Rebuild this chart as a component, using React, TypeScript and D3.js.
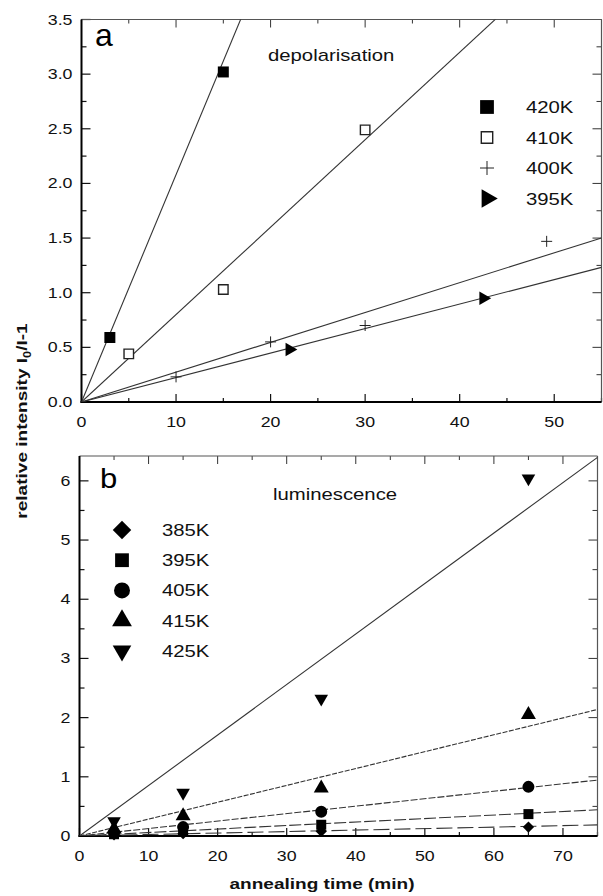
import React, { useEffect, useRef } from "react";
import * as d3 from "d3";

const W = 603;
const H = 896;
const FONT = "'Liberation Sans', Arial, Helvetica, sans-serif";
const STRETCH = 1.27; // the scanned lettering is wide

// ---- panel a : depolarisation ----
const aNames = ["420K", "410K", "400K", "395K"];
const aTimes420 = [3, 15];
const aVals420 = [0.59, 3.02];
const aTimes410 = [5, 15, 30];
const aVals410 = [0.44, 1.03, 2.49];
const aTimes400 = [10, 20, 30, 49.2];
const aVals400 = [0.23, 0.55, 0.7, 1.47];
const aTimes395 = [22, 42.5];
const aVals395 = [0.48, 0.95];
const aSlopes = [0.208, 0.08, 0.0273, 0.0224];
const aXTicks = [0, 10, 20, 30, 40, 50];
const aYTicks = [0, 0.5, 1, 1.5, 2, 2.5, 3, 3.5];

// ---- panel b : luminescence ----
const bNames = ["385K", "395K", "405K", "415K", "425K"];
const bTimes = [5, 15, 35, 65];
const b385 = [0.02, 0.04, 0.08, 0.15];
const b395 = [0.03, 0.08, 0.19, 0.37];
const b405 = [0.05, 0.15, 0.41, 0.83];
const b415 = [0.12, 0.34, 0.81, 2.05];
const b425 = [0.25, 0.73, 2.32, 6.04];
const bSlopes = [0.0025, 0.0059, 0.0126, 0.0285, 0.0853];
const bDash = ["16,5", "12,3", "7,2", "5,1.5", null];
const bXTicks = [0, 10, 20, 30, 40, 50, 60, 70];
const bYTicks = [0, 1, 2, 3, 4, 5, 6];

function markPath(kind: string, size: number) {
  if (kind === "plus") return `M${-size},0H${size}M0,${-size}V${size}`;
  const t: any = {
    square: d3.symbolSquare,
    open: d3.symbolSquare,
    diamond: d3.symbolSquare,
    circle: d3.symbolCircle,
    triUp: d3.symbolTriangle,
    triDown: d3.symbolTriangle,
    triRight: d3.symbolTriangle,
  }[kind];
  return d3.symbol(t, size)();
}
const rot: any = { diamond: 45, triDown: 180, triRight: 90 };

function drawMark(g: any, kind: string, size: number, cx: number, cy: number) {
  const p = g
    .append("path")
    .attr("d", markPath(kind, size))
    .attr("transform", `translate(${cx},${cy}) rotate(${rot[kind] || 0})`);
  if (kind === "open") p.attr("fill", "#fff").attr("stroke", "#222").attr("stroke-width", 1.4);
  else if (kind === "plus") p.attr("fill", "none").attr("stroke", "#222").attr("stroke-width", 1);
  else p.attr("fill", "#000");
}

function label(g: any, x: number, y: number, txt: string, anchor: string, size: number, weight = "normal") {
  return g
    .append("text")
    .attr("transform", `translate(${x},${y}) scale(${STRETCH},1)`)
    .attr("text-anchor", anchor)
    .attr("font-family", FONT)
    .attr("font-size", size)
    .attr("font-weight", weight)
    .attr("fill", "#111")
    .text(txt);
}

function drawFrame(svg: any, x: any, y: any, xMajor: number[], xStep: number, yMajor: number[], yStep: number, fmt: any, id: string) {
  const [l, r] = x.range();
  const [b, t] = y.range();
  const g = svg.append("g");
  const [xd0, xd1] = x.domain();
  const [yd0, yd1] = y.domain();
  const xMinor = d3.range(xd0, xd1 + 1e-9, xStep);
  const yMinor = d3.range(yd0, yd1 + 1e-9, yStep);
  const isMajor = (v: number, arr: number[]) => arr.some((m) => Math.abs(m - v) < 1e-6);

  xMinor.forEach((v) => {
    const len = isMajor(v, xMajor) ? 8 : 4;
    const px = x(v);
    g.append("line").attr("x1", px).attr("x2", px).attr("y1", b).attr("y2", b - len).attr("stroke", "#111").attr("stroke-width", 1.2);
    g.append("line").attr("x1", px).attr("x2", px).attr("y1", t).attr("y2", t + len).attr("stroke", "#333").attr("stroke-width", 1);
  });
  yMinor.forEach((v) => {
    const len = isMajor(v, yMajor) ? 9 : 5;
    const py = y(v);
    g.append("line").attr("x1", l).attr("x2", l + len).attr("y1", py).attr("y2", py).attr("stroke", "#111").attr("stroke-width", 1.2);
    g.append("line").attr("x1", r).attr("x2", r - len).attr("y1", py).attr("y2", py).attr("stroke", "#333").attr("stroke-width", 1);
  });

  // frame: left/bottom heavy, top/right light
  g.append("line").attr("x1", l).attr("x2", r).attr("y1", t).attr("y2", t).attr("stroke", "#555").attr("stroke-width", 1.2);
  g.append("line").attr("x1", r).attr("x2", r).attr("y1", t).attr("y2", b).attr("stroke", "#555").attr("stroke-width", 1.2);
  g.append("line").attr("x1", l).attr("x2", l).attr("y1", t).attr("y2", b + 1).attr("stroke", "#000").attr("stroke-width", 2);
  g.append("line").attr("x1", l - 1).attr("x2", r).attr("y1", b).attr("y2", b).attr("stroke", "#000").attr("stroke-width", 2);

  xMajor.forEach((v) => label(g, x(v), b + 25, String(v), "middle", 14));
  yMajor.forEach((v) => label(g, l - 9, y(v) + 5, fmt(v), "end", 14));

  svg.append("defs").append("clipPath").attr("id", id).append("rect").attr("x", l).attr("y", t).attr("width", r - l).attr("height", b - t);
}

export default function App() {
  const ref = useRef<SVGSVGElement>(null);

  useEffect(() => {
    const svg = d3.select(ref.current);
    svg.selectAll("*").remove();

    // ---------------- panel a ----------------
    const xa = d3.scaleLinear().domain([0, 55]).range([81.5, 601.5]);
    const ya = d3.scaleLinear().domain([0, 3.5]).range([402, 19.5]);
    drawFrame(svg, xa, ya, aXTicks, 5, aYTicks, 0.25, d3.format(".1f"), "clipA");

    const lineA = d3.line<number>().x((d) => xa(d[0])).y((d) => ya(d[1]));
    const la = svg.append("g").attr("clip-path", "url(#clipA)");
    aSlopes.forEach((s) => {
      la.append("path")
        .attr("d", lineA([[0, 0], [55, 55 * s]] as any))
        .attr("fill", "none")
        .attr("stroke", "#333")
        .attr("stroke-width", 1.1);
    });

    const aData = [
      { kind: "square", size: 121, lsize: 190, t: aTimes420, v: aVals420 },
      { kind: "open", size: 90, lsize: 130, t: aTimes410, v: aVals410 },
      { kind: "plus", size: 5.5, lsize: 7, t: aTimes400, v: aVals400 },
      { kind: "triRight", size: 80, lsize: 150, t: aTimes395, v: aVals395 },
    ];
    const ma = svg.append("g");
    aData.forEach((s) => s.t.forEach((tt, i) => drawMark(ma, s.kind, s.size, xa(tt), ya(s.v[i]))));

    // legend a
    aData.forEach((s, i) => {
      const cy = 107 + i * 30.5;
      drawMark(ma, s.kind, s.lsize, 487, cy);
      label(ma, 526, cy + 6, aNames[i], "start", 16);
    });
    label(svg, 268, 61, "depolarisation", "start", 16);
    svg.append("text").attr("x", 95).attr("y", 46).attr("font-family", FONT).attr("font-size", 32).text("a");

    // ---------------- panel b ----------------
    const xb = d3.scaleLinear().domain([0, 75]).range([79.5, 597.5]);
    const yb = d3.scaleLinear().domain([0, 6.42]).range([836, 456]);
    drawFrame(svg, xb, yb, bXTicks, 5, bYTicks, 0.5, d3.format("d"), "clipB");

    const lineB = d3.line<number>().x((d) => xb(d[0])).y((d) => yb(d[1]));
    const lb = svg.append("g").attr("clip-path", "url(#clipB)");
    bSlopes.forEach((s, i) => {
      const p = lb
        .append("path")
        .attr("d", lineB([[0, 0], [75, 75 * s]] as any))
        .attr("fill", "none")
        .attr("stroke", "#333")
        .attr("stroke-width", 1.1);
      if (bDash[i]) p.attr("stroke-dasharray", bDash[i]);
    });

    const bData = [
      { kind: "diamond", size: 64, lsize: 170, v: b385 },
      { kind: "square", size: 100, lsize: 190, v: b395 },
      { kind: "circle", size: 113, lsize: 200, v: b405 },
      { kind: "triUp", size: 97, lsize: 170, v: b415 },
      { kind: "triDown", size: 80, lsize: 150, v: b425 },
    ];
    const mb = svg.append("g");
    bData.forEach((s) => bTimes.forEach((tt, i) => drawMark(mb, s.kind, s.size, xb(tt), yb(s.v[i]))));

    bData.forEach((s, i) => {
      const cy = 530 + i * 30.2;
      drawMark(mb, s.kind, s.lsize, 122, cy);
      label(mb, 162, cy + 6, bNames[i], "start", 16);
    });
    label(svg, 273, 500, "luminescence", "start", 16);
    svg.append("text").attr("x", 100).attr("y", 488).attr("font-family", FONT).attr("font-size", 27).attr("transform", "translate(100,488) scale(1.15,1) translate(-100,-488)").text("b");

    // ---------------- shared axis titles ----------------
    const yt = svg
      .append("text")
      .attr("transform", `translate(27,421) rotate(-90) scale(${STRETCH},1)`)
      .attr("text-anchor", "middle")
      .attr("font-family", FONT)
      .attr("font-size", 15)
      .attr("font-weight", "bold")
      .attr("fill", "#111");
    yt.append("tspan").text("relative intensity I");
    yt.append("tspan").attr("font-size", 10).attr("dy", 4).text("0");
    yt.append("tspan").attr("dy", -4).text("/I-1");

    label(svg, 322, 889, "annealing time (min)", "middle", 15, "bold");
  }, []);

  return (
    <svg
      ref={ref}
      width={W}
      height={H}
      style={{ position: "absolute", left: 0, top: 0, background: "#fff" }}
    />
  );
}
